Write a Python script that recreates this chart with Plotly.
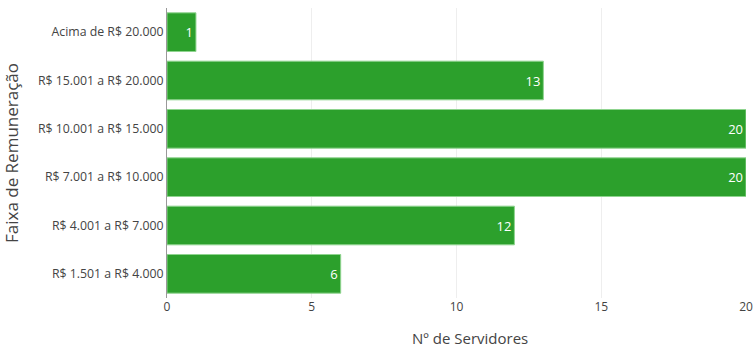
import plotly.graph_objects as go

categories = ["R$ 1.501 a R$ 4.000", "R$ 4.001 a R$ 7.000", "R$ 7.001 a R$ 10.000",
              "R$ 10.001 a R$ 15.000", "R$ 15.001 a R$ 20.000", "Acima de R$ 20.000"]
values = [6, 12, 20, 20, 13, 1]
x_ticks = [0, 5, 10, 15, 20]

fig = go.Figure(go.Bar(
    y=categories, x=values, orientation="h",
    marker=dict(color="#2ca02c", line=dict(color="#8fd48f", width=1)),
    text=values, textposition="inside", insidetextanchor="end",
    textfont=dict(color="white", size=13),
    cliponaxis=False,
))
fig.update_layout(
    width=753, height=348, autosize=False,
    margin=dict(l=167, r=7, t=8, b=50, autoexpand=False),
    paper_bgcolor="white", plot_bgcolor="white",
    font=dict(family="Open Sans", size=13, color="#444"),
    bargap=0.2,
    showlegend=False,
    xaxis=dict(range=[0, 20], tickvals=x_ticks, ticktext=[str(v) for v in x_ticks],
               showgrid=True, gridcolor="#eee", zeroline=False, showline=False,
               tickfont=dict(size=12), ticklabeloverflow="allow", automargin=False,
               ticks="", fixedrange=True),
    yaxis=dict(showgrid=False, showline=True, linecolor="#999", linewidth=1,
               tickfont=dict(size=12.3),
               title=dict(text="Faixa de Remuneração", font=dict(size=17)),
               ticks="", automargin=False, fixedrange=True),
    annotations=[dict(text="Nº de Servidores", xref="paper", yref="paper",
                      x=0.523, y=-0.138, xanchor="center", yanchor="middle",
                      showarrow=False, font=dict(size=15, color="#444"))],
)
fig.write_html("out.html",
               config={"responsive": False, "displayModeBar": False},
               post_script="document.body.style.margin='0';document.body.style.overflow='hidden';")
